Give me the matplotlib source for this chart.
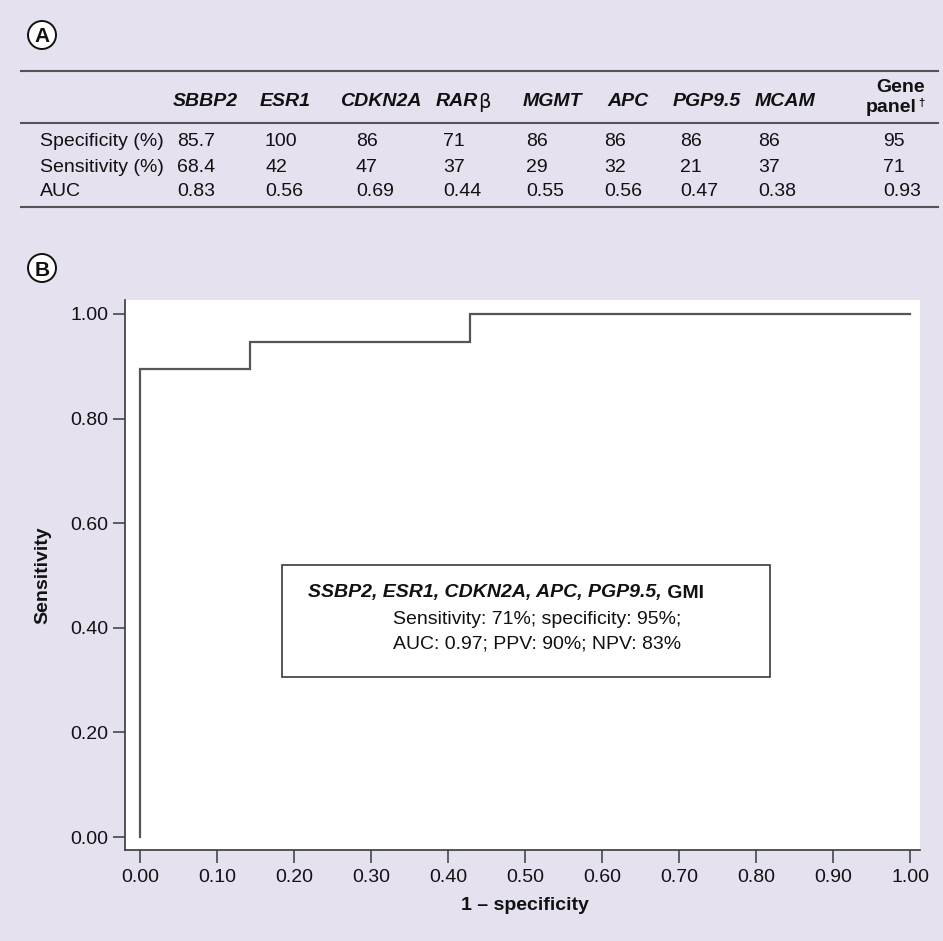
import matplotlib
matplotlib.use("Agg")
import matplotlib.pyplot as plt
from matplotlib.patches import Rectangle, Ellipse
from matplotlib.lines import Line2D

# ---------------- data ----------------
genes = ["SBBP2", "ESR1", "CDKN2A", "RAR", "MGMT", "APC", "PGP9.5", "MCAM", "Gene panel"]
row_labels = ["Specificity (%)", "Sensitivity (%)", "AUC"]
specificity = ["85.7", "100", "86", "71", "86", "86", "86", "86", "95"]
sensitivity = ["68.4", "42", "47", "37", "29", "32", "21", "37", "71"]
auc = ["0.83", "0.56", "0.69", "0.44", "0.55", "0.56", "0.47", "0.38", "0.93"]

roc_fpr = [0.0, 0.0, 0.143, 0.143, 0.429, 0.429, 1.0]
roc_tpr = [0.0, 0.895, 0.895, 0.947, 0.947, 1.0, 1.0]
xticks = [0.0, 0.1, 0.2, 0.3, 0.4, 0.5, 0.6, 0.7, 0.8, 0.9, 1.0]
yticks = [0.0, 0.2, 0.4, 0.6, 0.8, 1.0]

box_title_genes = "SSBP2, ESR1, CDKN2A, APC, PGP9.5,"
box_title_rest = " GMI"
box_lines = ["Sensitivity: 71%; specificity: 95%;", "AUC: 0.97; PPV: 90%; NPV: 83%"]

# ---------------- layout ----------------
W, H = 943, 941
BG = "#E5E1EF"
DARK = "#3a3a3a"
LINE = "#555555"
FS = 14

plt.rcParams["font.family"] = ["Liberation Sans", "DejaVu Sans"]

fig = plt.figure(figsize=(W / 100, H / 100), dpi=100)
fig.patch.set_facecolor(BG)


def fx(x):
    return x / W


def fy(y):
    return 1 - y / H


# panel labels (circled letters)
for letter, cy in [("A", 35), ("B", 268)]:
    circ = Ellipse((fx(42), fy(cy)), 28 / W, 28 / H, transform=fig.transFigure,
                   facecolor="white", edgecolor="#111111", linewidth=1.4)
    fig.patches.append(circ)
    fig.text(fx(42), fy(cy), letter, ha="center", va="center_baseline",
             fontsize=15, fontweight="bold", color="#111111")

# ---------------- table (panel A) ----------------
for yy in [71, 123, 207]:
    fig.add_artist(Line2D([fx(21), fx(938)], [fy(yy), fy(yy)],
                          transform=fig.transFigure, color=LINE, linewidth=1.5))

header_cx = [205, 285, 381, 465, 552, 628, 707, 785, 900]
value_lx = [177, 265, 356, 443, 526, 604, 680, 758, 883]
row_y = [141, 167, 192]
header_y = 102

for i, g in enumerate(genes):
    if g == "RAR":
        fig.text(fx(478), fy(header_y), g, ha="right", va="center", fontsize=FS,
                 fontweight="bold", fontstyle="italic", color="#111111")
        fig.text(fx(478), fy(header_y), "\u03b2", ha="left", va="center", fontsize=FS,
                 color="#111111", family="DejaVu Sans")
    elif g == "Gene panel":
        fig.text(fx(901), fy(88), "Gene", ha="center", va="center", fontsize=FS,
                 fontweight="bold", color="#111111")
        fig.text(fx(917), fy(107), "panel", ha="right", va="center", fontsize=FS,
                 fontweight="bold", color="#111111")
        fig.text(fx(918), fy(103), "\u2020", ha="left", va="center", fontsize=8,
                 fontweight="bold", color="#111111")
    else:
        fig.text(fx(header_cx[i]), fy(header_y), g, ha="center", va="center",
                 fontsize=FS, fontweight="bold", fontstyle="italic", color="#111111")

for r, (lab, vals) in enumerate(zip(row_labels, [specificity, sensitivity, auc])):
    fig.text(fx(40), fy(row_y[r]), lab, ha="left", va="center", fontsize=FS, color="#111111")
    for i, v in enumerate(vals):
        fig.text(fx(value_lx[i]), fy(row_y[r]), v, ha="left", va="center",
                 fontsize=FS, color="#111111")

# ---------------- ROC (panel B) ----------------
ax_l, ax_r, ax_t, ax_b = 125, 920, 300, 850
ax = fig.add_axes([fx(ax_l), fy(ax_b), (ax_r - ax_l) / W, (ax_b - ax_t) / H])
ax.set_facecolor("white")
ax.plot(roc_fpr, roc_tpr, color=LINE, linewidth=1.6, solid_joinstyle="miter")

x0px, x1px = 140, 910
y0px, y1px = 837, 314
ax.set_xlim((ax_l - x0px) / (x1px - x0px), (ax_r - x0px) / (x1px - x0px))
ax.set_ylim(-(ax_b - y0px) / (y0px - y1px), (y0px - ax_t) / (y0px - y1px))

ax.set_xticks(xticks)
ax.set_xticklabels([f"{t:.2f}" for t in xticks])
ax.set_yticks(yticks)
ax.set_yticklabels([f"{t:.2f}" for t in yticks])
for s in ["top", "right"]:
    ax.spines[s].set_visible(False)
for s in ["left", "bottom"]:
    ax.spines[s].set_color(DARK)
    ax.spines[s].set_linewidth(1.2)
ax.tick_params(axis="both", direction="out", length=9, width=1.1, color=DARK,
               labelsize=FS, labelcolor="#111111")
ax.tick_params(axis="x", pad=5)
ax.tick_params(axis="y", pad=3)

fig.text(fx(525), fy(906), "1 \u2013 specificity", ha="center", va="center",
         fontsize=FS, fontweight="bold", color="#111111")
fig.text(fx(43), fy(575), "Sensitivity", ha="center", va="center", rotation=90,
         fontsize=FS, fontweight="bold", color="#111111")

# annotation box
bx0, bx1, by0, by1 = 282, 770, 565, 677
fig.patches.append(Rectangle((fx(bx0), fy(by1)), (bx1 - bx0) / W, (by1 - by0) / H,
                             transform=fig.transFigure, facecolor="white",
                             edgecolor=DARK, linewidth=1.2, zorder=5))
t1 = fig.text(fx(308), fy(593), box_title_genes, ha="left", va="center", fontsize=FS,
              fontweight="bold", fontstyle="italic", color="#111111", zorder=6)
fig.canvas.draw()
bb = t1.get_window_extent()
fig.text(bb.x1 / W, fy(593), box_title_rest, ha="left", va="center", fontsize=FS,
         fontweight="bold", color="#111111", zorder=6)
fig.text(fx(393), fy(620), box_lines[0], ha="left", va="center", fontsize=FS,
         color="#111111", zorder=6)
fig.text(fx(393), fy(644), box_lines[1], ha="left", va="center", fontsize=FS,
         color="#111111", zorder=6)

fig.savefig("out.png", dpi=100, facecolor=BG)
